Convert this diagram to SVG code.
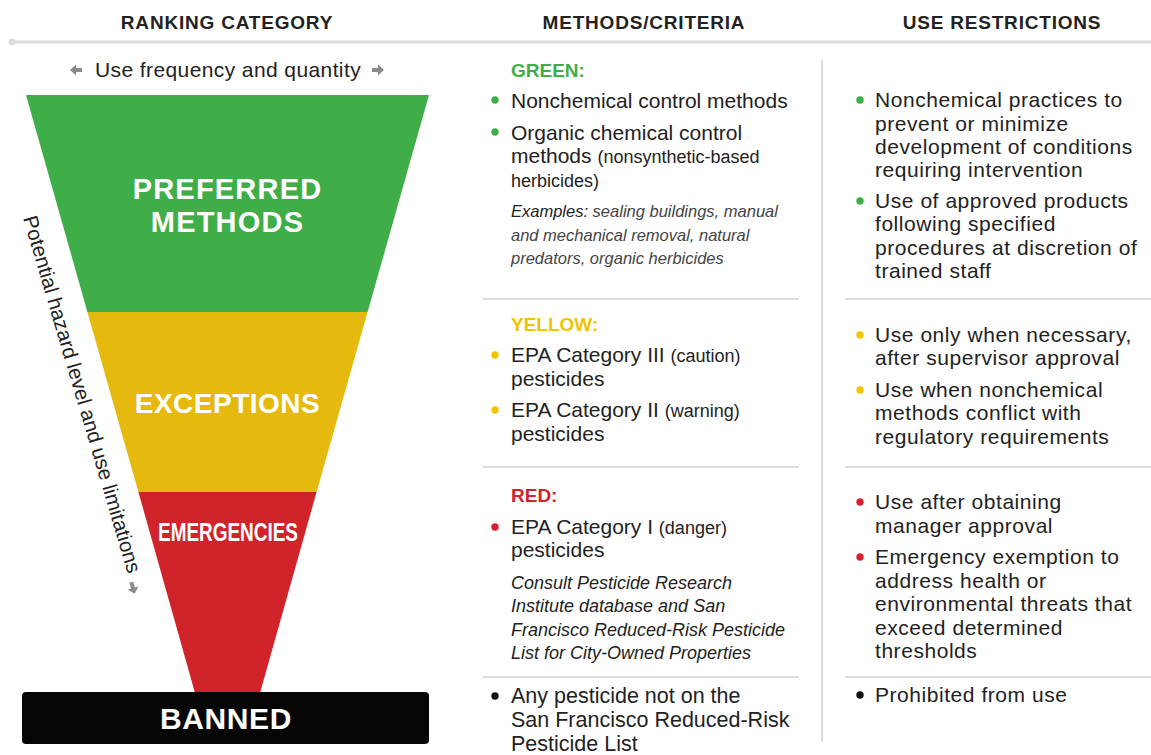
<svg xmlns="http://www.w3.org/2000/svg" width="1151" height="755" viewBox="0 0 1151 755">
<style>
  .hdr{font-family:"Liberation Sans",Arial,sans-serif;font-weight:bold;font-size:19px;fill:#222;text-anchor:middle;letter-spacing:0.8px}
  .t{font-family:"Liberation Sans",Arial,sans-serif;font-size:21px;fill:#222}
  .r{font-family:"Liberation Sans",Arial,sans-serif;font-size:21px;fill:#222;letter-spacing:0.55px}
  .s{font-size:18px}
  .ex{font-family:"Liberation Sans",Arial,sans-serif;font-size:16.5px;font-style:italic;fill:#444}
  .exb{fill:#222}
  .it{font-family:"Liberation Sans",Arial,sans-serif;font-size:18px;font-style:italic;fill:#222}
  .lab{font-family:"Liberation Sans",Arial,sans-serif;font-weight:bold;font-size:19px}
  .fun{font-family:"Liberation Sans",Arial,sans-serif;font-weight:bold;fill:#fff;text-anchor:middle}
  .div{stroke:#dcdcdc;stroke-width:2;fill:none}
  .arr{fill:#8a8a8a}
</style>

<!-- header -->
<g id="header">
  <text class="hdr" x="227" y="29">RANKING CATEGORY</text>
  <text class="hdr" x="644" y="29">METHODS/CRITERIA</text>
  <text class="hdr" x="1002" y="29">USE RESTRICTIONS</text>
  <line x1="12" y1="42" x2="1151" y2="42" stroke="#dcdcdc" stroke-width="3"/>
  <circle cx="12" cy="42" r="3.5" fill="#dcdcdc"/>
</g>

<!-- dividers -->
<g id="dividers">
  <line class="div" x1="822" y1="60" x2="822" y2="742"/>
  <line class="div" x1="483" y1="299" x2="799" y2="299"/>
  <line class="div" x1="845" y1="299" x2="1151" y2="299"/>
  <line class="div" x1="483" y1="467" x2="799" y2="467"/>
  <line class="div" x1="845" y1="467" x2="1151" y2="467"/>
  <line class="div" x1="483" y1="677" x2="799" y2="677"/>
  <line class="div" x1="845" y1="677" x2="1151" y2="677"/>
</g>

<!-- axis labels -->
<g id="axis-labels">
  <text class="t" x="95" y="77" style="letter-spacing:0.4px">Use frequency and quantity</text>
  <text class="t" transform="translate(23,218) rotate(73.6)" style="font-size:20.5px">Potential hazard level and use limitations</text>
</g>

<!-- funnel -->
<g id="node-preferred">
  <polygon points="26,95 429,95 367.6,312 87.4,312" fill="#3fae49"/>
  <text class="fun" x="227.5" y="199" style="font-size:29px;letter-spacing:1.2px">PREFERRED</text>
  <text class="fun" x="227.5" y="232" style="font-size:29px;letter-spacing:1.2px">METHODS</text>
</g>
<g id="node-exceptions">
  <polygon points="87.4,312 367.6,312 316.6,492 138.4,492" fill="#e5b90d"/>
  <text class="fun" x="227.5" y="413" style="font-size:28px;letter-spacing:0.5px">EXCEPTIONS</text>
</g>
<g id="node-emergencies">
  <polygon points="138.4,492 316.6,492 260,693 195,693" fill="#d1232a"/>
  <text class="fun" x="228" y="541" style="font-size:25px" textLength="140" lengthAdjust="spacingAndGlyphs">EMERGENCIES</text>
</g>
<g id="node-banned">
  <rect x="22" y="692" width="407" height="52" rx="4" fill="#050505"/>
  <text class="fun" x="226" y="729" style="font-size:30px;letter-spacing:0.6px">BANNED</text>
</g>

<!-- connectors / arrows -->
<g id="connectors">
  <polygon class="arr" points="70,70 76,64.5 76,68 82,68 82,72 76,72 76,75.5"/>
  <polygon class="arr" points="384,70 378,64.5 378,68 372,68 372,72 378,72 378,75.5"/>
  <polygon class="arr" transform="translate(133,588) rotate(-16)" points="0,6 -5.5,0 -2,0 -2,-6 2,-6 2,0 5.5,0"/>
</g>

<!-- methods column -->
<g id="methods-green">
  <text class="lab" x="511" y="77" fill="#3fae49">GREEN:</text>
  <circle cx="495" cy="100" r="3.7" fill="#3aae47"/>
  <text class="t" x="511" y="108">Nonchemical control methods</text>
  <circle cx="495" cy="132" r="3.7" fill="#3aae47"/>
  <text class="t" x="511" y="140">Organic chemical control</text>
  <text class="t" x="511" y="163">methods <tspan class="s">(nonsynthetic-based</tspan></text>
  <text class="t" x="511" y="187"><tspan class="s">herbicides)</tspan></text>
  <text class="ex" x="511" y="217"><tspan class="exb">Examples:</tspan> sealing buildings, manual</text>
  <text class="ex" x="511" y="241">and mechanical removal, natural</text>
  <text class="ex" x="511" y="264">predators, organic herbicides</text>
</g>
<g id="methods-yellow">
  <text class="lab" x="511" y="331" fill="#f2c300">YELLOW:</text>
  <circle cx="495" cy="355" r="3.7" fill="#f5c400"/>
  <text class="t" x="511" y="362">EPA Category III <tspan class="s">(caution)</tspan></text>
  <text class="t" x="511" y="386">pesticides</text>
  <circle cx="495" cy="410" r="3.7" fill="#f5c400"/>
  <text class="t" x="511" y="417">EPA Category II <tspan class="s">(warning)</tspan></text>
  <text class="t" x="511" y="441">pesticides</text>
</g>
<g id="methods-red">
  <text class="lab" x="511" y="502" fill="#d2232a">RED:</text>
  <circle cx="495" cy="527" r="3.7" fill="#d6202c"/>
  <text class="t" x="511" y="534">EPA Category I <tspan class="s">(danger)</tspan></text>
  <text class="t" x="511" y="557">pesticides</text>
  <text class="it" x="511" y="589">Consult Pesticide Research</text>
  <text class="it" x="511" y="612">Institute database and San</text>
  <text class="it" x="511" y="636">Francisco Reduced-Risk Pesticide</text>
  <text class="it" x="511" y="659">List for City-Owned Properties</text>
</g>
<g id="methods-banned">
  <circle cx="495" cy="696" r="3.7" fill="#111"/>
  <text class="t" x="511" y="703" style="font-size:21.5px">Any pesticide not on the</text>
  <text class="t" x="511" y="727" style="font-size:21.5px">San Francisco Reduced-Risk</text>
  <text class="t" x="511" y="751" style="font-size:21.5px">Pesticide List</text>
</g>

<!-- restrictions column -->
<g id="restrictions-green">
  <circle cx="860" cy="100" r="3.7" fill="#3aae47"/>
  <text class="r" x="875" y="107">Nonchemical practices to</text>
  <text class="r" x="875" y="131">prevent or minimize</text>
  <text class="r" x="875" y="154">development of conditions</text>
  <text class="r" x="875" y="177">requiring intervention</text>
  <circle cx="860" cy="201" r="3.7" fill="#3aae47"/>
  <text class="r" x="875" y="208">Use of approved products</text>
  <text class="r" x="875" y="231">following specified</text>
  <text class="r" x="875" y="255">procedures at discretion of</text>
  <text class="r" x="875" y="278">trained staff</text>
</g>
<g id="restrictions-yellow">
  <circle cx="860" cy="335" r="3.7" fill="#f5c400"/>
  <text class="r" x="875" y="342">Use only when necessary,</text>
  <text class="r" x="875" y="365">after supervisor approval</text>
  <circle cx="860" cy="390" r="3.7" fill="#f5c400"/>
  <text class="r" x="875" y="397">Use when nonchemical</text>
  <text class="r" x="875" y="420">methods conflict with</text>
  <text class="r" x="875" y="444">regulatory requirements</text>
</g>
<g id="restrictions-red">
  <circle cx="860" cy="502" r="3.7" fill="#d6202c"/>
  <text class="r" x="875" y="509">Use after obtaining</text>
  <text class="r" x="875" y="533">manager approval</text>
  <circle cx="860" cy="557" r="3.7" fill="#d6202c"/>
  <text class="r" x="875" y="564">Emergency exemption to</text>
  <text class="r" x="875" y="588">address health or</text>
  <text class="r" x="875" y="611">environmental threats that</text>
  <text class="r" x="875" y="635">exceed determined</text>
  <text class="r" x="875" y="658">thresholds</text>
</g>
<g id="restrictions-banned">
  <circle cx="860" cy="695" r="3.7" fill="#111"/>
  <text class="r" x="875" y="702">Prohibited from use</text>
</g>
</svg>
